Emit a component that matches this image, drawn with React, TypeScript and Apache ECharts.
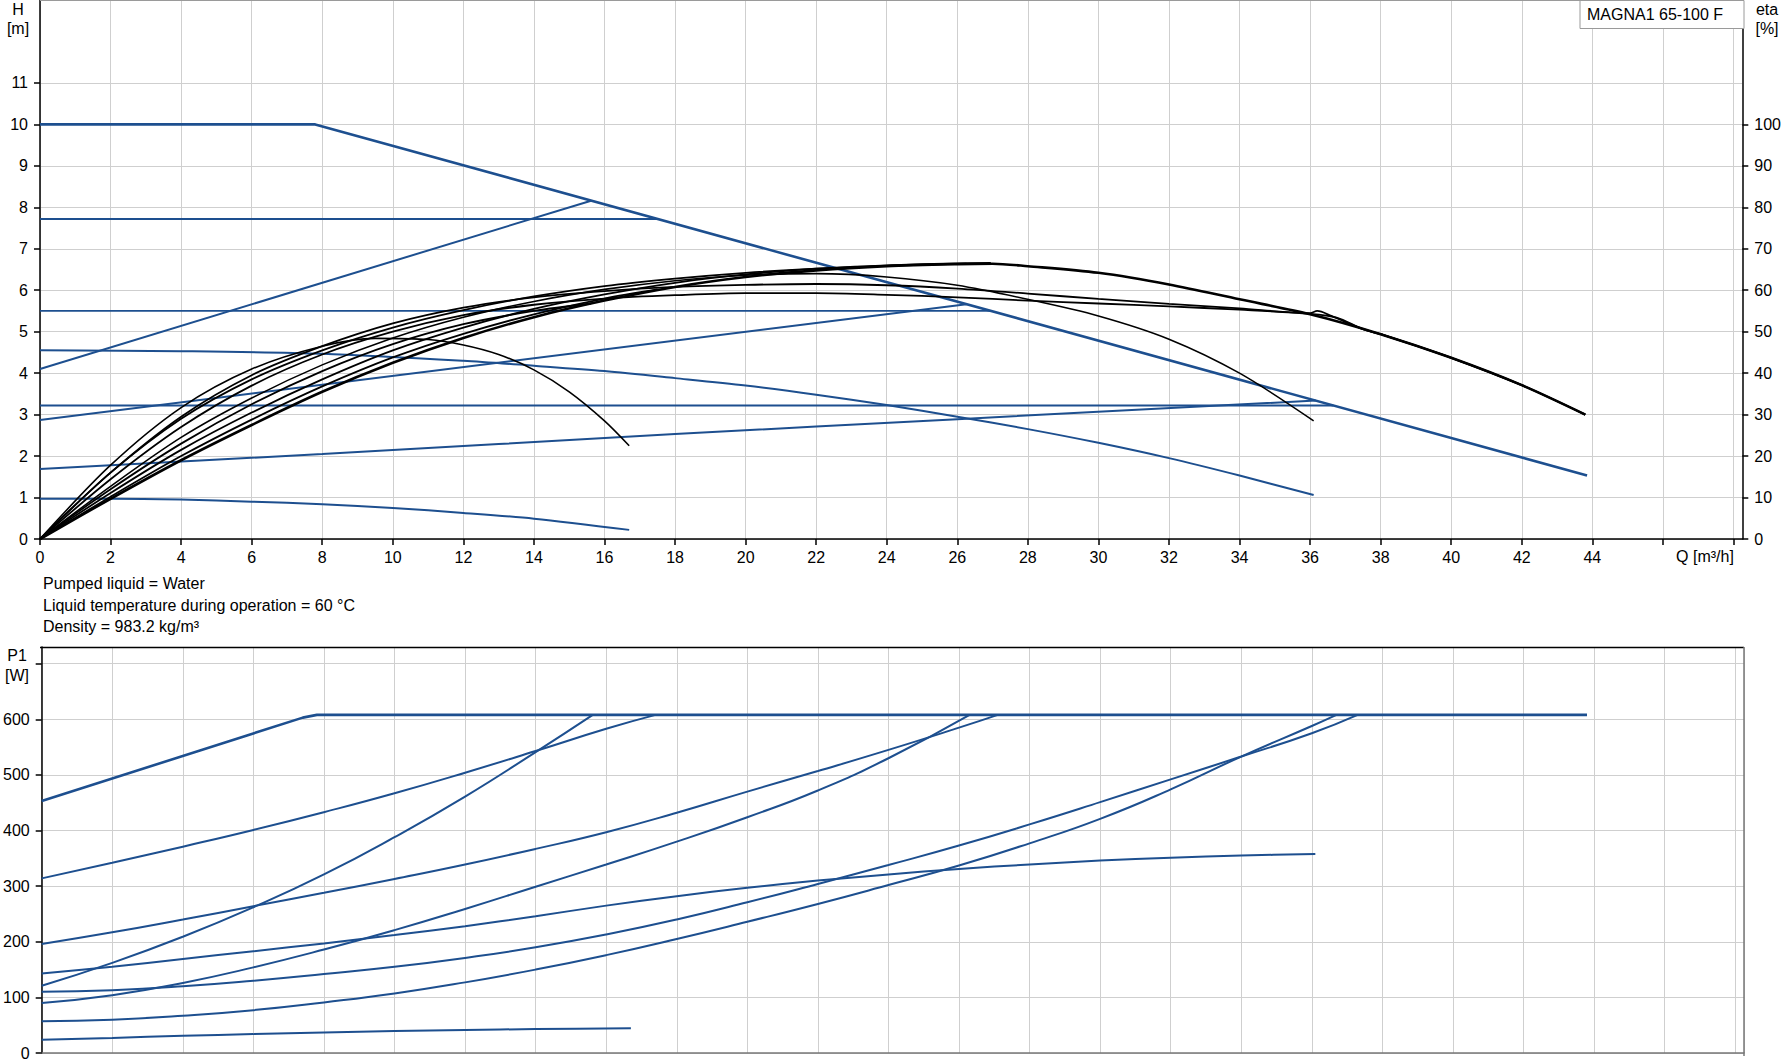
import React, { useEffect, useRef } from 'react';
import * as echarts from 'echarts';

type Pt = [number, number];

// ---------- axis ticks ----------
const qTickValues: number[] = [0, 2, 4, 6, 8, 10, 12, 14, 16, 18, 20, 22, 24, 26, 28, 30, 32, 34, 36, 38, 40, 42, 44, 46, 48];
const qLabelMax = 44;
const hTickValues: number[] = [0, 1, 2, 3, 4, 5, 6, 7, 8, 9, 10, 11];
const etaTickValues: number[] = [0, 10, 20, 30, 40, 50, 60, 70, 80, 90, 100];
const pTickValues: number[] = [0, 100, 200, 300, 400, 500, 600, 700];
const pLabelMax = 600;

// ---------- head curves H [m] (blue) ----------
const hMax: Pt[] = [[0, 10], [7.8, 10], [43.85, 1.53]];
const hConst772: Pt[] = [[0, 7.72], [17.5, 7.72]];
const hProp410: Pt[] = [[0, 4.1], [15.62, 8.16]];
const hConst550: Pt[] = [[0, 5.5], [26.95, 5.5]];
const hProp287: Pt[] = [[0, 2.87], [26.26, 5.66]];
const hConst322: Pt[] = [[0, 3.22], [36.66, 3.22]];
const hProp169: Pt[] = [[0, 1.69], [8, 2.05], [18, 2.53], [26, 2.89], [36.16, 3.34]];
const hCurve455: Pt[] = [[0, 4.55], [4, 4.53], [8, 4.47], [12, 4.3], [14, 4.18], [16, 4.05], [18, 3.88], [20, 3.7], [22, 3.48], [24, 3.23], [26, 2.95], [28, 2.65], [30, 2.32], [32, 1.95], [34, 1.53], [36.1, 1.06]];
const hCurve097: Pt[] = [[0, 0.97], [2, 0.97], [4, 0.95], [6, 0.9], [8, 0.84], [10, 0.75], [12, 0.63], [14, 0.49], [16.7, 0.22]];

// ---------- efficiency curves eta [%] (black) ----------
const etaMax: Pt[] = [[0, 0], [2, 9.7], [4, 19], [6, 27.5], [8, 35.5], [10, 42.5], [12, 48.5], [14, 53.5], [16, 57.5], [18, 60.8], [20, 63.2], [22, 64.8], [24, 65.8], [26, 66.3], [27, 66.4], [28, 65.8], [30, 64.2], [32, 61.4], [34, 57.8], [36, 54.2], [38, 49.4], [40, 43.7], [42, 37.1], [43.8, 30]];
const etaConst772: Pt[] = [[0, 0], [2, 10.2], [4, 20], [6, 28.8], [8, 36.8], [10, 43.8], [12, 49.5], [14, 54.2], [16, 58], [17.5, 60.2]];
const etaProp410: Pt[] = [[0, 0], [2, 12], [4, 23], [6, 32.5], [8, 40.5], [10, 47], [12, 51.8], [14, 55], [15.62, 56.8]];
const etaConst550: Pt[] = [[0, 0], [2, 11.1], [4, 21.5], [6, 30.5], [8, 38.5], [10, 45.5], [12, 51], [14, 55.5], [16, 59], [18, 61.8], [20, 63.8], [22, 65.2], [24, 66], [26, 66.5], [26.95, 66.6]];
const etaProp287: Pt[] = [[0, 0], [2, 16], [4, 29], [6, 38.5], [8, 45.5], [10, 51], [12, 55.2], [14, 58.5], [16, 61], [18, 62.8], [20, 64.2], [22, 65.2], [24, 65.9], [26.26, 66.4]];
const etaConst322: Pt[] = [[0, 0], [2, 14.4], [4, 27], [6, 37], [8, 44.5], [10, 50], [12, 54], [14, 56.5], [16, 58], [18, 58.8], [20, 59.3], [22, 59.3], [24, 58.9], [26, 58.3], [28, 57.5], [30, 56.8], [32, 56.1], [34, 55.3], [36, 54.3], [36.75, 53.4], [37.5, 50.6], [38, 49.4], [40, 43.7], [42, 37.1], [43.8, 30]];
const etaProp169: Pt[] = [[0, 0], [2, 16], [4, 29.5], [6, 39.5], [8, 46.5], [10, 52], [12, 55.8], [14, 58.3], [16, 59.8], [18, 60.8], [20, 61.3], [22, 61.5], [24, 61.2], [26, 60.4], [28, 59.2], [30, 57.9], [32, 56.7], [34, 55.6], [36, 54.5], [36.2, 55], [36.6, 53.8], [37.5, 50.6], [38, 49.4], [40, 43.7], [42, 37.1], [43.8, 30]];
const etaCurve455: Pt[] = [[0, 0], [2, 12.7], [4, 24.5], [6, 34], [8, 42], [10, 48.5], [12, 53.5], [14, 57.3], [16, 60.2], [18, 62.3], [20, 63.6], [22, 64], [24, 63.2], [26, 61.2], [28, 57.8], [30, 53.8], [32, 48.2], [34, 40], [36.1, 28.5]];
const etaCurve097: Pt[] = [[0, 0], [2, 17.8], [4, 31.7], [6, 41], [8, 46.5], [9.5, 48.4], [11, 48.1], [12, 46.8], [13, 44.5], [14, 40.8], [15, 35.5], [16, 28.5], [16.7, 22.5]];

// ---------- power curves P1 [W] (blue) ----------
const pMax: Pt[] = [[0, 453], [7.4, 603], [7.8, 608], [43.8, 608]];
const pConst772: Pt[] = [[0, 314], [2, 342], [4, 371], [6, 401], [8, 433], [10, 467], [12, 504], [14, 543], [16, 583], [17.4, 608]];
const pProp410: Pt[] = [[0, 121], [2, 162], [4, 209], [6, 262], [8, 321], [10, 388], [12, 461], [14, 541], [15.62, 608]];
const pConst550: Pt[] = [[0, 196], [2, 217], [4, 240], [6, 264], [8, 288], [10, 313], [12, 339], [14, 367], [16, 397], [18, 432], [20, 470], [22, 507], [24, 545], [26, 585], [27.1, 608]];
const pProp287: Pt[] = [[0, 90], [2, 104], [4, 126], [6, 154], [8, 186], [10, 221], [12, 259], [14, 299], [16, 339], [18, 380], [20, 424], [22, 472], [24, 530], [26.3, 608]];
const pConst322: Pt[] = [[0, 110], [2, 113], [4, 120], [6, 130], [8, 142], [10, 155], [12, 171], [14, 190], [16, 213], [18, 240], [20, 271], [22, 304], [24, 338], [26, 373], [28, 411], [30, 451], [32, 492], [34, 533], [36, 575], [37.3, 608]];
const pProp169: Pt[] = [[0, 57], [2, 60], [4, 67], [6, 77], [8, 91], [10, 107], [12, 127], [14, 150], [16, 176], [18, 205], [20, 236], [22, 268], [24, 302], [26, 337], [28, 377], [30, 421], [32, 474], [34, 533], [36, 588], [36.7, 608]];
const pCurve455: Pt[] = [[0, 143], [2, 155], [4, 169], [6, 183], [8, 197], [10, 212], [12, 228], [14, 246], [16, 265], [18, 282], [20, 297], [22, 310], [24, 321], [26, 331], [28, 339], [30, 346], [32, 351], [34, 355], [36.1, 358]];
const pCurve097: Pt[] = [[0, 24], [2, 27], [4, 31], [6, 34], [8, 37], [10, 39.5], [12, 41.5], [14, 43], [16.7, 44.5]];

const infoLines: string[] = [
  'Pumped liquid = Water',
  'Liquid temperature during operation = 60 °C',
  'Density = 983.2 kg/m³',
];

const BLUE = '#1d4f8f';
const BLACK = '#000000';
const GRIDC = '#cfcfcf';
const FONT = '"Liberation Sans", Arial, sans-serif';

// layout
const W = 1784;
const H = 1061;
const LEFT = 40;
const RIGHT_X = 1744;
const TOP1 = 0;
const BOT1 = 539;
const TOP2 = 647;
const BOT2 = 1056;

function line(data: Pt[], color: string, width: number, xi: number, yi: number, smooth: number | boolean = 0.3) {
  return {
    type: 'line',
    data,
    xAxisIndex: xi,
    yAxisIndex: yi,
    symbol: 'none',
    showSymbol: false,
    smooth,
    silent: true,
    lineStyle: { color, width },
  };
}

function txt(x: number, y: number, text: string, align: string = 'center') {
  return {
    type: 'text',
    x,
    y,
    z: 100,
    style: {
      text,
      fill: '#000',
      font: `16px ${FONT}`,
      align,
      verticalAlign: 'middle',
    },
  };
}

export default function App() {
  const ref = useRef<HTMLDivElement>(null);

  useEffect(() => {
    if (!ref.current) return;
    const chart = echarts.init(ref.current, undefined, { renderer: 'svg' });
    const axisLabelBase = { fontSize: 16, color: '#000', fontFamily: FONT };
    const option: any = {
      animation: false,
      backgroundColor: '#fff',
      grid: [
        { left: LEFT, top: TOP1, width: RIGHT_X - LEFT, height: BOT1 - TOP1, containLabel: false },
        { left: LEFT, top: TOP2, width: RIGHT_X - LEFT, height: BOT2 - TOP2, containLabel: false },
      ],
      xAxis: [
        {
          type: 'value', gridIndex: 0, min: 0, max: 48.25, interval: 2,
          axisLine: { show: true, onZero: false, lineStyle: { color: '#000', width: 1.5 } },
          axisTick: { show: true, length: 6, customValues: qTickValues, lineStyle: { color: '#000', width: 1.5 } },
          axisLabel: { ...axisLabelBase, margin: 10, formatter: (v: number) => (v <= qLabelMax && qTickValues.indexOf(v) >= 0 ? String(v) : '') },
          splitLine: { show: true, lineStyle: { color: GRIDC, width: 1 } },
        },
        {
          type: 'value', gridIndex: 1, min: 0, max: 48.25, interval: 2,
          axisLine: { show: true, onZero: false, lineStyle: { color: '#777', width: 1.5 } },
          axisTick: { show: false },
          axisLabel: { show: false },
          splitLine: { show: true, lineStyle: { color: GRIDC, width: 1 } },
        },
      ],
      yAxis: [
        {
          type: 'value', gridIndex: 0, position: 'left', min: 0, max: 13, interval: 1,
          axisLine: { show: true, onZero: false, lineStyle: { color: '#000', width: 1.5 } },
          axisTick: { show: true, length: 6, customValues: hTickValues, lineStyle: { color: '#000', width: 1.5 } },
          axisLabel: { ...axisLabelBase, margin: 12, customValues: hTickValues, formatter: (v: number) => (v <= 11 ? String(v) : '') },
          splitLine: { show: true, lineStyle: { color: GRIDC, width: 1 } },
        },
        {
          type: 'value', gridIndex: 0, position: 'right', min: 0, max: 130, interval: 10,
          axisLine: { show: true, onZero: false, lineStyle: { color: '#000', width: 1.5 } },
          axisTick: { show: true, length: 6, customValues: etaTickValues, lineStyle: { color: '#000', width: 1.5 } },
          axisLabel: { ...axisLabelBase, margin: 12, customValues: etaTickValues, formatter: (v: number) => (v <= 100 ? String(v) : '') },
          splitLine: { show: false },
        },
        {
          type: 'value', gridIndex: 1, position: 'left', min: 0, max: 730, interval: 100,
          axisLine: { show: true, onZero: false, lineStyle: { color: '#000', width: 1.5 } },
          axisTick: { show: true, length: 6, customValues: pTickValues, lineStyle: { color: '#000', width: 1.5 } },
          axisLabel: { ...axisLabelBase, margin: 12, formatter: (v: number) => (v <= pLabelMax && pTickValues.indexOf(v) >= 0 ? String(v) : '') },
          splitLine: { show: true, lineStyle: { color: GRIDC, width: 1 } },
        },
      ],
      series: [
        // head curves
        line(hCurve097, BLUE, 2, 0, 0),
        line(hCurve455, BLUE, 2, 0, 0),
        line(hProp169, BLUE, 2, 0, 0),
        line(hConst322, BLUE, 2.2, 0, 0, false),
        line(hProp287, BLUE, 2, 0, 0, false),
        line(hConst550, BLUE, 1.8, 0, 0, false),
        line(hProp410, BLUE, 2, 0, 0, false),
        line(hConst772, BLUE, 2, 0, 0, false),
        line(hMax, BLUE, 2.6, 0, 0, false),
        // efficiency curves
        line(etaCurve097, BLACK, 1.6, 0, 1),
        line(etaCurve455, BLACK, 1.6, 0, 1),
        line(etaProp169, BLACK, 1.8, 0, 1),
        line(etaConst322, BLACK, 1.8, 0, 1),
        line(etaProp287, BLACK, 1.8, 0, 1),
        line(etaConst550, BLACK, 1.8, 0, 1),
        line(etaProp410, BLACK, 1.8, 0, 1),
        line(etaConst772, BLACK, 1.8, 0, 1),
        line(etaMax, BLACK, 2.6, 0, 1),
        // power curves
        line(pCurve097, BLUE, 2, 1, 2),
        line(pCurve455, BLUE, 2, 1, 2),
        line(pProp169, BLUE, 2, 1, 2, 0.5),
        line(pConst322, BLUE, 2, 1, 2, 0.5),
        line(pProp287, BLUE, 2, 1, 2, 0.5),
        line(pConst550, BLUE, 2, 1, 2, 0.5),
        line(pProp410, BLUE, 2, 1, 2, 0.5),
        line(pConst772, BLUE, 2, 1, 2, 0.5),
        line(pMax, BLUE, 2.6, 1, 2, false),
      ],
      graphic: [
        // top border of upper chart
        { type: 'line', z: 50, shape: { x1: LEFT, y1: 0.5, x2: RIGHT_X, y2: 0.5 }, style: { stroke: '#9a9a9a', lineWidth: 1 } },
        // borders of lower chart
        { type: 'line', z: 50, shape: { x1: LEFT, y1: TOP2 + 0.5, x2: RIGHT_X, y2: TOP2 + 0.5 }, style: { stroke: '#000', lineWidth: 1.5 } },
        { type: 'line', z: 50, shape: { x1: RIGHT_X, y1: TOP2, x2: RIGHT_X, y2: BOT2 }, style: { stroke: '#777', lineWidth: 1.5 } },
        // product box
        { type: 'rect', z: 90, shape: { x: 1580, y: 0.5, width: RIGHT_X - 1580, height: 28 }, style: { fill: '#fff', stroke: '#9a9a9a', lineWidth: 1 } },
        txt(1587, 14, 'MAGNA1 65-100 F', 'left'),
        // axis titles
        txt(18, 9, 'H'),
        txt(18, 28, '[m]'),
        txt(1767, 9, 'eta'),
        txt(1767, 28, '[%]'),
        txt(1705, 556, 'Q [m³/h]'),
        txt(17, 655, 'P1'),
        txt(17, 675, '[W]'),
        // info text
        txt(43, 583, infoLines[0], 'left'),
        txt(43, 605, infoLines[1], 'left'),
        txt(43, 626, infoLines[2], 'left'),
      ],
    };
    chart.setOption(option);
    return () => {
      chart.dispose();
    };
  }, []);

  return (
    <div
      ref={ref}
      style={{ position: 'fixed', left: 0, top: 0, width: W, height: H, background: '#fff' }}
    />
  );
}
